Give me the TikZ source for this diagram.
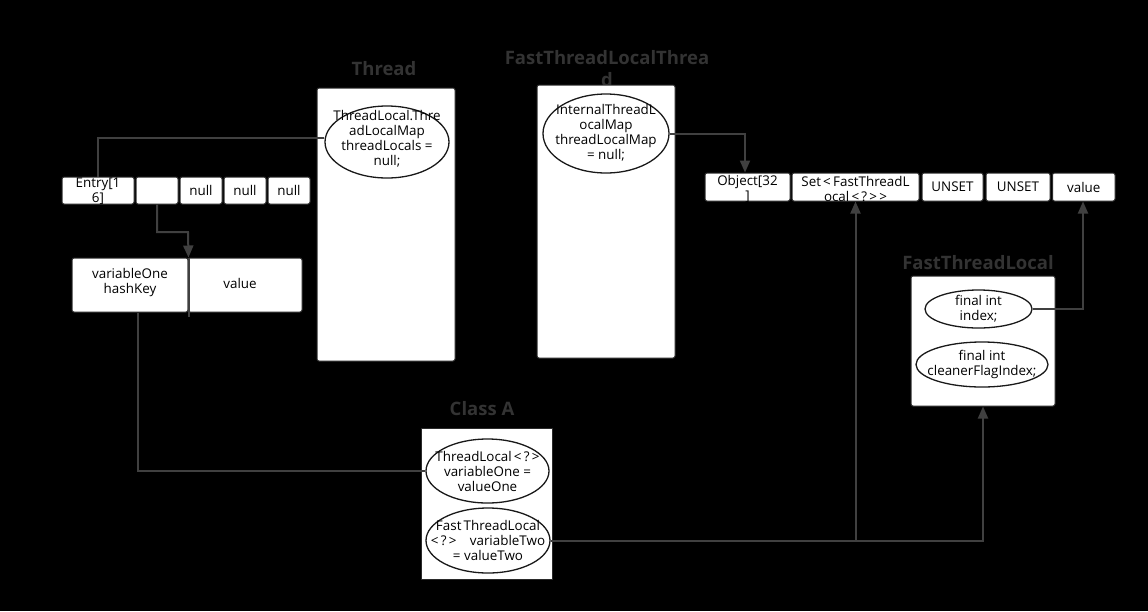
\documentclass[tikz,border=0pt]{standalone}
\usepackage{fontspec}
\setmainfont{Open Sans}
\usetikzlibrary{shapes.geometric,arrows.meta,calc}
\definecolor{ln}{HTML}{404040}
\definecolor{tt}{HTML}{333333}
\definecolor{bd}{HTML}{2A2A2A}
\tikzset{
  txt/.style={font=\fontsize{13.4}{15}\selectfont, align=center, text=black, inner sep=0pt},
  box/.style={draw=bd, fill=white, line width=1pt, rounded corners=2pt, inner sep=0pt, txt},
  cellbox/.style={box, minimum height=28pt},
  ell/.style={ellipse, draw=black!90, fill=white, line width=1.3pt, inner sep=0pt},
  ttl/.style={font=\fontsize{18.5}{22}\selectfont\bfseries, text=tt, align=center, inner sep=0pt},
  conn/.style={draw=ln, line width=2pt},
  arr/.style={conn, -{Triangle[width=10pt,length=12pt]}, ln},
}
\begin{document}
\begin{tikzpicture}[x=1pt,y=-1pt]
\useasboundingbox (0,0) rectangle (1148,611);
\fill[black] (0,0) rectangle (1148,611);

% ---------- Thread ----------
\node[ttl] (threadT) at (384,69) {Thread};
\node[box, minimum width=138pt, minimum height=273pt] (thread) at (386,224.5) {};
\node[ell, minimum width=124pt, minimum height=72pt] (tl) at (387,142) {};
\node[txt] (tlT) at (387,138.5) {ThreadLocal.Thre\\adLocalMap\\threadLocals =\\null;};

% ---------- Entry array ----------
\node[cellbox, minimum width=72pt, minimum height=27pt] (e1) at (98,190.5) {};
\node[txt] (e1T) at (98,191) {Entry[1\\6]};
\node[cellbox, minimum width=42pt, minimum height=27pt] (e2) at (157,190.5) {};
\node[cellbox, minimum width=42pt, minimum height=27pt] (e3) at (201,190.5) {null};
\node[cellbox, minimum width=42pt, minimum height=27pt] (e4) at (245,190.5) {null};
\node[cellbox, minimum width=42pt, minimum height=27pt] (e5) at (289,190.5) {null};

% ---------- Entry (key/value) ----------
\node[box, minimum width=116pt, minimum height=54pt] (key) at (130,285) {};
\node[txt] (keyT) at (130,283) {variableOne\\hashKey};
\node[box, minimum width=114pt, minimum height=54pt] (val1) at (245,285) {};
\node[txt] (val1T) at (240,283) {value};

% ---------- FastThreadLocalThread ----------
\node[ttl] (fttT) at (607,68.5) {FastThreadLocalThrea\\d};
\node[box, minimum width=138pt, minimum height=273pt] (ftt) at (606,221.5) {};
\node[ell, minimum width=126pt, minimum height=79pt] (itl) at (606,133.5) {};
\node[txt] (itlT) at (606,133) {InternalThreadL\\ocalMap\\threadLocalMap\\= null;};

% ---------- Object array ----------
\node[cellbox, minimum width=85pt] (obj) at (747.5,187) {};
\node[txt] (objT) at (747.5,189) {Object[32\\]};
\node[cellbox, minimum width=127pt] (set) at (855.5,187) {};
\node[txt] (setT) at (855.5,189) {Set\,<\,FastThreadL\\ocal\,<\,?\,>\,>};
\node[cellbox, minimum width=61pt] (u1) at (952.5,187) {UNSET};
\node[cellbox, minimum width=64pt] (u2) at (1018,187) {UNSET};
\node[cellbox, minimum width=62.5pt] (val2) at (1083.75,187) {value};

% ---------- FastThreadLocal ----------
\node[ttl] (ftlT) at (978,263) {FastThreadLocal};
\node[box, minimum width=144pt, minimum height=130pt] (ftl) at (983,341) {};
\node[ell, minimum width=107pt, minimum height=38pt] (idx) at (978.5,309) {};
\node[txt] (idxT) at (978.5,309) {final int\\index;};
\node[ell, minimum width=132pt, minimum height=45pt] (cfi) at (982,364.5) {};
\node[txt] (cfiT) at (982,364.5) {final int\\cleanerFlagIndex;};

% ---------- Class A ----------
\node[ttl] (caT) at (482,409) {Class A};
\node[box, minimum width=131pt, minimum height=151pt, rounded corners=0pt] (ca) at (487,503.5) {};
\node[ell, minimum width=123pt, minimum height=64pt] (a1) at (487.5,471) {};
\node[txt] (a1T) at (487.5,471) {ThreadLocal\,<\,?\,>\\variableOne =\\valueOne};
\node[ell, minimum width=124pt, minimum height=65pt] (a2) at (488,540.5) {};
\node[txt] (a2T) at (488,540.5) {Fast\,ThreadLocal\\<\,?\,>\quad variableTwo\\= valueTwo};

% ---------- connectors ----------
\draw[conn] ($(tl.west)+(0,-4)$) -| (e1.north);
\draw[arr] (e2.south) |- (188,232) -- (key.north east);
\draw[conn] (key.north east) -- ($(key.south east)+(0,4)$);
\draw[conn] ($(key.south)+(8,0)$) |- (a1.west);
\draw[arr] (itl.east) -| ($(obj.north)+(-2.5,0)$);
\draw[arr] (a2.east) -| (ftl.south);
\draw[arr] (a2.east -| set.south) -- (set.south);
\draw[arr] (idx.east) -| ($(val2.south)+(-0.75,0)$);
\end{tikzpicture}
\end{document}
